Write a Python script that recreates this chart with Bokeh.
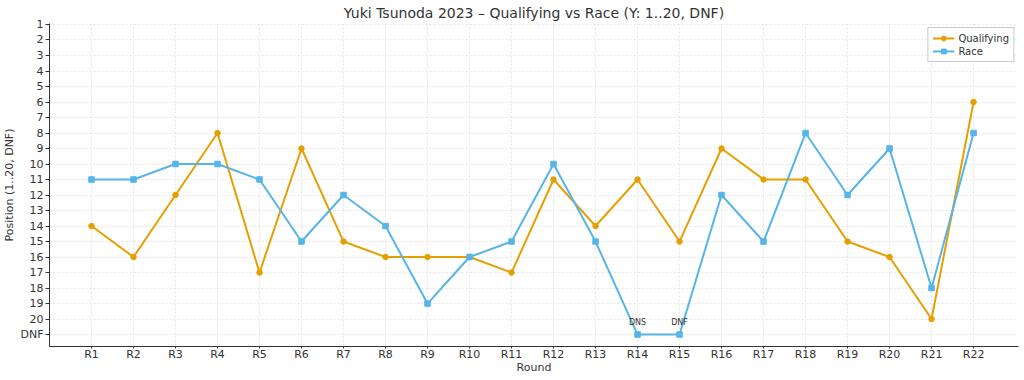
from bokeh.plotting import figure
from bokeh.models import ColumnDataSource, FixedTicker, Range1d, Legend, LegendItem
from bokeh.core.properties import value
from bokeh.embed import file_html
from bokeh.resources import INLINE

rounds = [f"R{i}" for i in range(1, 23)]
qualifying = [14, 16, 12, 8, 17, 9, 15, 16, 16, 16, 17, 11, 14, 11, 15, 9, 11, 11, 15, 16, 20, 6]
race = [11, 11, 10, 10, 11, 15, 12, 14, 19, 16, 15, 10, 15, 21, 21, 12, 15, 8, 12, 9, 18, 8]
y_labels = [str(i) for i in range(1, 21)] + ["DNF"]
notes_round = [14, 15]
notes_text = ["DNS", "DNF"]

FONT = "DejaVu Sans"
TXT = "#333333"
ORANGE = "#E69F00"
BLUE = "#56B4E9"

xs = list(range(1, len(rounds) + 1))

p = figure(width=1024, height=380, output_backend="svg", toolbar_location=None,
           x_range=Range1d(0, 23.07), y_range=Range1d(21.77, 0.936),
           title="Yuki Tsunoda 2023 \u2013 Qualifying vs Race (Y: 1..20, DNF)",
           min_border_left=48, min_border_right=6, min_border_top=0, min_border_bottom=34)
p.title.align = "center"
p.title.text_font = FONT
p.title.text_font_size = "14px"
p.title.text_font_style = "normal"
p.title.text_color = TXT
p.title.standoff = 5
p.outline_line_color = None

q = p.line(xs, qualifying, line_color=ORANGE, line_width=2)
qs = p.scatter(xs, qualifying, marker="circle", size=5.5, fill_color=ORANGE, line_color=ORANGE)
r = p.line(xs, race, line_color=BLUE, line_width=2)
rs = p.scatter(xs, race, marker="square", size=5.5, fill_color=BLUE, line_color=BLUE)

src = ColumnDataSource(dict(x=notes_round, y=[race[i - 1] for i in notes_round], t=notes_text))
p.text(x="x", y="y", text="t", source=src, text_font=value(FONT), text_font_size="8px",
       text_color=TXT, text_align="center", text_baseline="bottom", y_offset=-8)

for ax, lab in ((p.xaxis[0], "Round"), (p.yaxis[0], "Position (1..20, DNF)")):
    ax.axis_label = lab
    ax.axis_label_text_font = FONT
    ax.axis_label_text_font_size = "11px"
    ax.axis_label_text_font_style = "normal"
    ax.axis_label_text_color = TXT
    ax.major_label_text_font = FONT
    ax.major_label_text_font_size = "11px"
    ax.major_label_text_color = TXT
    ax.axis_line_color = TXT
    ax.major_tick_line_color = TXT
    ax.major_tick_in = 0
    ax.minor_tick_line_color = None

p.xaxis.major_tick_out = 2
p.xaxis.major_label_standoff = -1
p.xaxis.axis_label_standoff = -3
p.yaxis.major_tick_out = 4
p.yaxis.major_label_standoff = 2
p.yaxis.axis_label_standoff = 1

p.xaxis.ticker = FixedTicker(ticks=xs)
p.xaxis.major_label_overrides = {x: rounds[x - 1] for x in xs}
yt = list(range(1, len(y_labels) + 1))
p.yaxis.ticker = FixedTicker(ticks=yt)
p.yaxis.major_label_overrides = {y: y_labels[y - 1] for y in yt}

for g in (p.xgrid[0], p.ygrid[0]):
    g.grid_line_color = "#dddddd"
    g.grid_line_dash = "2 2"
    g.grid_line_width = 0.8

legend = Legend(items=[LegendItem(label="Qualifying", renderers=[q, qs]),
                       LegendItem(label="Race", renderers=[r, rs])],
                location="top_right", label_text_font=FONT, label_text_font_size="10px",
                label_text_color=TXT, border_line_color="#cccccc", border_line_alpha=1,
                background_fill_alpha=0.9, glyph_height=12, glyph_width=22,
                label_height=12, spacing=1, padding=4, margin=4, label_standoff=4)
p.add_layout(legend)

open("out.html", "w").write(file_html(p, INLINE))
